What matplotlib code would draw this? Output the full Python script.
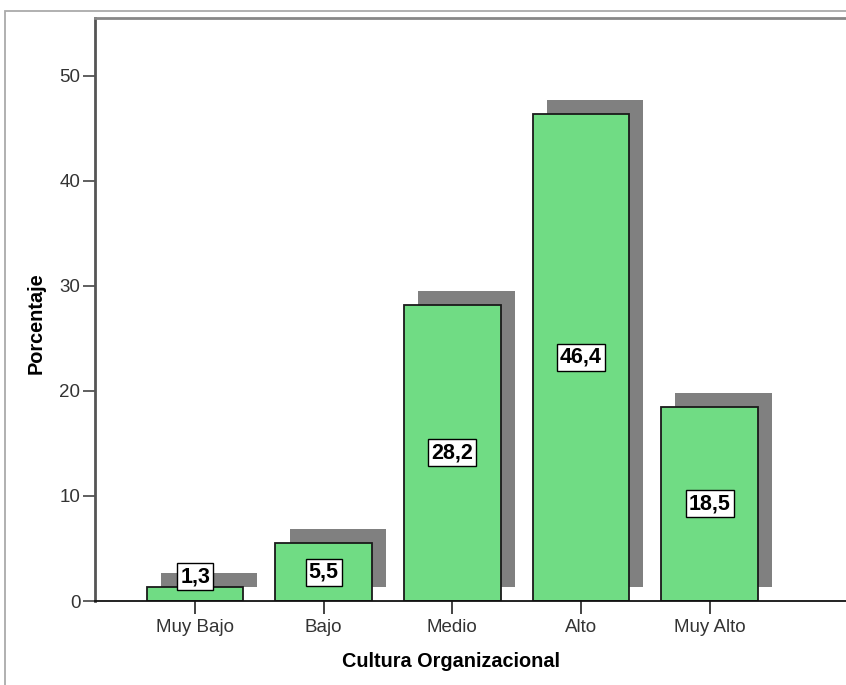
import matplotlib
matplotlib.use("Agg")
import numpy as np
from matplotlib import pyplot as plt
from matplotlib.patches import Rectangle

categorias = ["Muy Bajo", "Bajo", "Medio", "Alto", "Muy Alto"]
porcentajes = [1.3, 5.5, 28.2, 46.4, 18.5]
etiquetas = ["1,3", "5,5", "28,2", "46,4", "18,5"]
y_ticks = [0, 10, 20, 30, 40, 50]

plt.rcParams["font.family"] = ["Liberation Sans", "DejaVu Sans"]

fig = plt.figure(figsize=(8.46, 6.85), dpi=100)
W, H = 846, 685
ax = fig.add_axes([95 / W, (H - 601) / H, (W - 95) / W, (601 - 18) / H])

x = np.arange(len(categorias))
ancho = 0.75
dx, dy = 0.109, 1.33

# sombra
ax.bar(x + dx, porcentajes, width=ancho, bottom=dy, color="#808080", zorder=1)
# barras
ax.bar(x, porcentajes, width=ancho, color="#70dc84", edgecolor="#1a1a1a",
       linewidth=1.3, zorder=2)

for xi, v, t in zip(x, porcentajes, etiquetas):
    ax.text(xi, max(v / 2, 2.3), t, ha="center", va="center", fontsize=15.5,
            fontweight="bold", zorder=4,
            bbox=dict(boxstyle="square,pad=0.14", facecolor="white",
                      edgecolor="black", linewidth=1.0))

ax.set_xlim(-0.778, 5.06)
ax.set_ylim(0, 55.5)
ax.set_xticks(x)
ax.set_xticklabels(categorias, fontsize=13.5, color="#333333")
ax.set_yticks(y_ticks)
ax.set_yticklabels([str(v) for v in y_ticks], fontsize=13.5, color="#333333")
ax.tick_params(axis="x", length=9, width=1.2, color="#222222", pad=4)
ax.tick_params(axis="y", length=8.5, width=1.2, color="#444444", pad=2)

ax.spines["right"].set_visible(False)
ax.spines["left"].set_color("#555555")
ax.spines["left"].set_linewidth(2)
ax.spines["top"].set_color("#888888")
ax.spines["top"].set_linewidth(2)
ax.spines["bottom"].set_color("#111111")
ax.spines["bottom"].set_linewidth(1.3)

ax.set_xlabel("Cultura Organizacional", fontsize=14.3, fontweight="bold")
ax.xaxis.set_label_coords(0.474, -0.087)
ax.set_ylabel("Porcentaje", fontsize=14.3, fontweight="bold")
ax.yaxis.set_label_coords(-0.066, 0.477)

# marco exterior
fig.add_artist(Rectangle((5 / W, -0.1), 2.0, (H - 11) / H + 0.1, transform=fig.transFigure,
                         fill=False, edgecolor="#aaaaaa", linewidth=1.3))

fig.savefig("out.png", dpi=100)
